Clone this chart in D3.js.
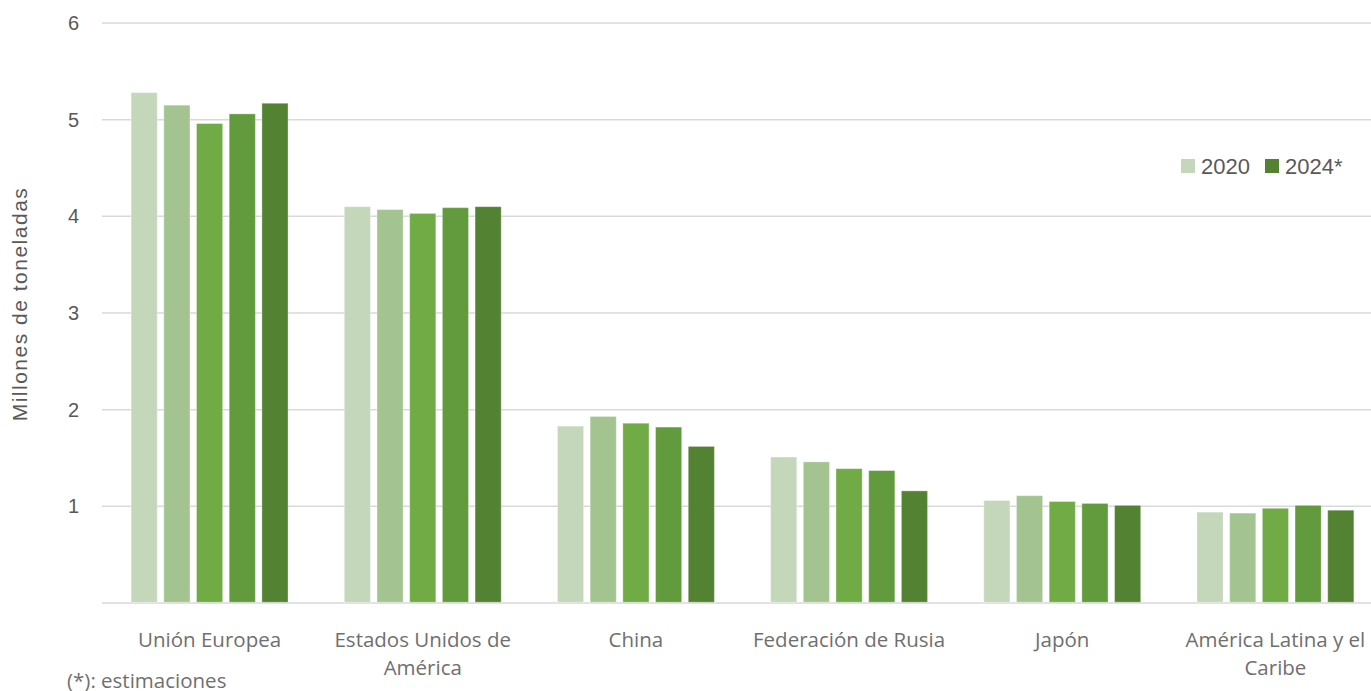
<!DOCTYPE html>
<html>
<head>
<meta charset="utf-8">
<script src="https://cdn.jsdelivr.net/npm/d3@7"></script>
<style>
  html, body { margin: 0; padding: 0; background: #fff; overflow: hidden; }
  svg { display: block; }
</style>
</head>
<body>
<div id="chart"></div>
<script>
// categories (label lines) and series
var categories = ["Unión Europea", "Estados Unidos de América", "China", "Federación de Rusia", "Japón", "América Latina y el Caribe"];
var categoryLines = [["Unión Europea"], ["Estados Unidos de", "América"], ["China"], ["Federación de Rusia"], ["Japón"], ["América Latina y el", "Caribe"]];
var years = ["2020", "2021", "2022", "2023", "2024*"];
var legendYears = ["2020", "2024*"];
var yTicks = [1, 2, 3, 4, 5, 6];

var v2020 = [5.28, 4.10, 1.83, 1.51, 1.06, 0.94];
var v2021 = [5.15, 4.07, 1.93, 1.46, 1.11, 0.93];
var v2022 = [4.96, 4.03, 1.86, 1.39, 1.05, 0.98];
var v2023 = [5.06, 4.09, 1.82, 1.37, 1.03, 1.01];
var v2024 = [5.17, 4.10, 1.62, 1.16, 1.01, 0.96];

var series = [v2020, v2021, v2022, v2023, v2024];
var colors = ["#c4d7bb", "#a3c491", "#70ab46", "#629a3e", "#538233"];

var W = 1371, H = 691;
var margin = {top: 23, left: 103, bottom: 88};
var plotRight = 1382; // plot continues a little past the window edge

var svg = d3.select("#chart").append("svg")
  .attr("width", W)
  .attr("height", H);

var x0 = d3.scaleBand()
  .domain(categories)
  .range([margin.left, plotRight])
  .paddingInner(0)
  .paddingOuter(0);

var x1 = d3.scaleBand()
  .domain(years)
  .range([0, x0.bandwidth()])
  .paddingInner(0.2)
  .paddingOuter(0.86);

var y = d3.scaleLinear()
  .domain([0, 6])
  .range([H - margin.bottom, margin.top]);

// gridlines
svg.append("g")
  .selectAll("line")
  .data([0].concat(yTicks))
  .enter()
  .append("line")
    .attr("x1", margin.left - 1)
    .attr("x2", W)
    .attr("y1", function(d) { return y(d); })
    .attr("y2", function(d) { return y(d); })
    .attr("stroke", "#d9d9d9")
    .attr("stroke-width", 1.5);

// y tick labels
svg.append("g")
  .selectAll("text")
  .data(yTicks)
  .enter()
  .append("text")
    .attr("x", 79)
    .attr("y", function(d) { return y(d); })
    .attr("dy", "0.35em")
    .attr("text-anchor", "end")
    .style("font-family", "'Liberation Sans', Arial, sans-serif")
    .style("font-size", "20px")
    .style("fill", "#595959")
    .text(function(d) { return d; });

// y axis title
svg.append("text")
  .attr("transform", "translate(27," + 304 + ") rotate(-90)")
  .attr("text-anchor", "middle")
  .style("font-family", "'Liberation Sans', Arial, sans-serif")
  .style("font-size", "21px")
  .style("letter-spacing", "1.5px")
  .style("fill", "#595959")
  .text("Millones de toneladas");

// bars
var rows = categories.map(function(c, i) {
  return {cat: c, values: years.map(function(yr, j) { return {year: yr, value: series[j][i], idx: j}; })};
});

svg.append("g")
  .selectAll("g")
  .data(rows)
  .enter()
  .append("g")
    .attr("transform", function(d) { return "translate(" + x0(d.cat) + ",0)"; })
  .selectAll("rect")
  .data(function(d) { return d.values; })
  .enter()
  .append("rect")
    .attr("x", function(d) { return x1(d.year); })
    .attr("y", function(d) { return y(d.value); })
    .attr("width", x1.bandwidth())
    .attr("height", function(d) { return y(0) - y(d.value) - 0.75; })
    .attr("fill", function(d) { return colors[d.idx]; })
    .attr("stroke", "#ffffff")
    .attr("stroke-opacity", 0.35)
    .attr("stroke-width", 1);

// category labels
var catLabels = svg.append("g")
  .selectAll("text")
  .data(categories)
  .enter()
  .append("text")
    .attr("x", function(d) { return x0(d) + x0.bandwidth() / 2; })
    .attr("y", 647)
    .attr("text-anchor", "middle")
    .style("font-family", "'Open Sans', sans-serif")
    .style("font-size", "20.5px")
    .style("fill", "#6f6f6f");

catLabels.selectAll("tspan")
  .data(function(d, i) { return categoryLines[i]; })
  .enter()
  .append("tspan")
    .attr("x", function() { var c = d3.select(this.parentNode).datum(); return x0(c) + x0.bandwidth() / 2; })
    .attr("dy", function(d, i) { return i === 0 ? 0 : 28; })
    .text(function(d) { return d; });

// legend
var legend = svg.append("g")
  .attr("transform", "translate(1181,159)");

var legItems = legend.selectAll("g")
  .data(legendYears)
  .enter()
  .append("g")
    .attr("transform", function(d, i) { return "translate(" + (i * 84) + ",0)"; });

legItems.append("rect")
  .attr("width", 14)
  .attr("height", 14)
  .attr("fill", function(d) { return colors[years.indexOf(d)]; });

legItems.append("text")
  .attr("x", 20)
  .attr("y", 7)
  .attr("dy", "0.36em")
  .style("font-family", "'Liberation Sans', Arial, sans-serif")
  .style("font-size", "22px")
  .style("fill", "#595959")
  .text(function(d) { return d; });

// footnote
svg.append("text")
  .attr("x", 67)
  .attr("y", 688)
  .style("font-family", "'Open Sans', sans-serif")
  .style("font-size", "20.5px")
  .style("fill", "#6f6f6f")
  .text("(*): estimaciones");
</script>
</body>
</html>
